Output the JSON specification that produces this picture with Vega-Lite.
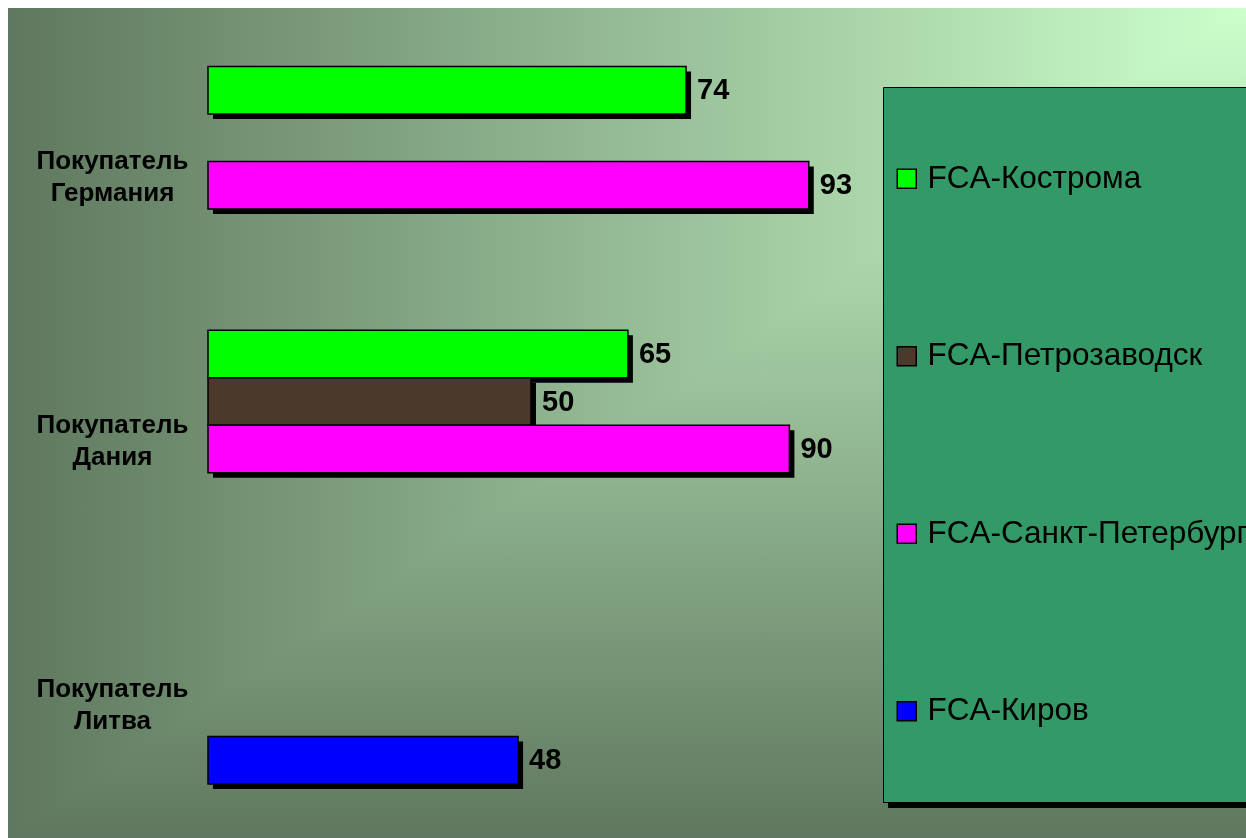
{
  "$schema": "https://vega.github.io/schema/vega-lite/v6.json",
  "width": 1238,
  "height": 830,
  "autosize": {"type": "none"},
  "padding": {"left": 8, "top": 8, "right": 0, "bottom": 0},
  "background": "white",
  "view": {
    "stroke": null,
    "fill": {
      "gradient": "linear", "x1": 1, "y1": 0, "x2": 0, "y2": 0,
      "stops": [{"offset": 0, "color": "#ccffcc"}, {"offset": 1, "color": "#5f785f"}]
    }
  },
  "data": {"values": [
    {"buyer": "Покупатель Германия", "series": "FCA-Кострома", "value": 74},
    {"buyer": "Покупатель Германия", "series": "FCA-Санкт-Петербург", "value": 93},
    {"buyer": "Покупатель Дания", "series": "FCA-Кострома", "value": 65},
    {"buyer": "Покупатель Дания", "series": "FCA-Петрозаводск", "value": 50},
    {"buyer": "Покупатель Дания", "series": "FCA-Санкт-Петербург", "value": 90},
    {"buyer": "Покупатель Литва", "series": "FCA-Киров", "value": 48}
  ]},
  "resolve": {"scale": {"yOffset": "independent"}},
  "layer": [
    {
      "data": {"values": [{}]},
      "mark": {
        "type": "rect",
        "blend": "darken",
        "fill": {
          "gradient": "linear", "x1": 0, "y1": 0, "x2": 0, "y2": 1,
          "stops": [{"offset": 0, "color": "#ccffcc"}, {"offset": 1, "color": "#5f785f"}]
        }
      },
      "encoding": {}
    },
    {
      "mark": {"type": "bar", "fill": "black", "xOffset": 5, "x2Offset": 5},
      "encoding": {
        "y": {
          "field": "buyer", "type": "nominal", "title": null,
          "scale": {
            "domain": ["Покупатель Германия", "Покупатель Дания", "Покупатель Литва"],
            "paddingInner": 0.28, "paddingOuter": 0.213, "align": 0.52
          },
          "axis": {
            "orient": "left", "offset": -190, "domain": false, "ticks": false, "tickSize": 0,
            "grid": false, "labelPadding": 86, "labelAlign": "center",
            "labelFont": "Liberation Sans", "labelFontSize": 26, "labelFontWeight": "bold",
            "labelColor": "black", "labelLineHeight": 32, "labelLimit": 400,
            "labelExpr": "split(datum.label, ' ')"
          }
        },
        "yOffset": {
          "field": "series", "type": "nominal",
          "scale": {
            "domain": ["FCA-Кострома", "FCA-Петрозаводск", "FCA-Санкт-Петербург", "FCA-Киров"],
            "range": [5, 195], "paddingInner": 0, "paddingOuter": 0
          }
        },
        "x": {
          "field": "value", "type": "quantitative",
          "scale": {"domain": [0, 100], "range": [200, 846]},
          "axis": null
        },
        "strokeDash": {
          "field": "series", "type": "nominal",
          "scale": {"range": [[1, 0], [1, 0], [1, 0], [1, 0]]},
          "legend": {
            "orient": "none", "legendX": 880, "legendY": 84, "zindex": 0,
            "title": " ", "titleFontSize": 31, "titlePadding": 37,
            "fillColor": "black", "strokeColor": "black", "padding": 8,
            "symbolType": "M-1,-1H40V1H-1Z", "symbolSize": 361, "symbolOpacity": 0, "symbolStrokeWidth": 0,
            "labelFont": "Liberation Sans", "labelFontSize": 31.5, "labelOpacity": 0,
            "labelOffset": 5, "labelLimit": 1000, "rowPadding": 10.5,
            "labelExpr": "datum.label == 'FCA-Санкт-Петербург' ? [' ', ' ', ' '] : [' ', ' ', ' ', ' ', ' ']"
          }
        }
      }
    },
    {
      "mark": {"type": "bar", "stroke": "black", "strokeWidth": 1.5},
      "encoding": {
        "y": {"field": "buyer", "type": "nominal"},
        "yOffset": {
          "field": "series", "type": "nominal",
          "scale": {
            "domain": ["FCA-Кострома", "FCA-Петрозаводск", "FCA-Санкт-Петербург", "FCA-Киров"],
            "paddingInner": 0, "paddingOuter": 0
          }
        },
        "x": {"field": "value", "type": "quantitative"},
        "color": {
          "field": "series", "type": "nominal",
          "scale": {
            "domain": ["FCA-Кострома", "FCA-Петрозаводск", "FCA-Санкт-Петербург", "FCA-Киров"],
            "range": ["#00ff00", "#4b3a2b", "#ff00ff", "#0000ff"]
          },
          "legend": {
            "orient": "none", "legendX": 875, "legendY": 79, "zindex": 1,
            "title": " ", "titleFontSize": 31, "titlePadding": 37,
            "fillColor": "#339966", "strokeColor": "black", "padding": 8,
            "symbolType": "square", "symbolSize": 361, "symbolStrokeColor": "black",
            "symbolStrokeWidth": 1.5, "symbolOpacity": 1,
            "labelFont": "Liberation Sans", "labelFontSize": 31.5, "labelColor": "black",
            "labelOffset": 5, "labelLimit": 1000, "rowPadding": 10.5,
            "labelExpr": "datum.label == 'FCA-Киров' ? [datum.label, ' ', ' '] : [datum.label, ' ', ' ', ' ', ' ']"
          }
        }
      }
    },
    {
      "mark": {
        "type": "text", "align": "left", "baseline": "middle", "dx": 11,
        "font": "Liberation Sans", "fontSize": 29, "fontWeight": "bold", "color": "black"
      },
      "encoding": {
        "y": {"field": "buyer", "type": "nominal"},
        "yOffset": {
          "field": "series", "type": "nominal",
          "scale": {
            "type": "band",
            "domain": ["FCA-Кострома", "FCA-Петрозаводск", "FCA-Санкт-Петербург", "FCA-Киров"],
            "paddingInner": 0, "paddingOuter": 0
          }
        },
        "x": {"field": "value", "type": "quantitative"},
        "text": {"field": "value", "type": "quantitative"}
      }
    }
  ]
}
